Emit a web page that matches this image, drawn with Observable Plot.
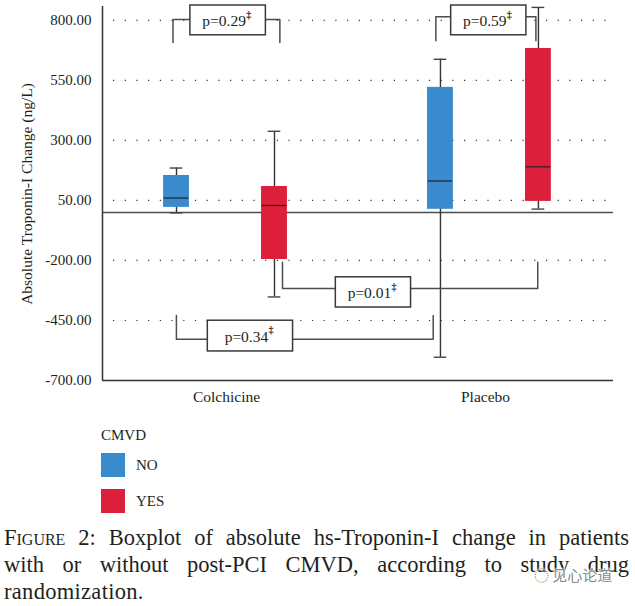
<!DOCTYPE html>
<html><head><meta charset="utf-8">
<script src="https://cdn.jsdelivr.net/npm/d3@7"></script>
<script src="https://cdn.jsdelivr.net/npm/@observablehq/plot@0.6"></script>
<style>
html,body{margin:0;padding:0;background:#fff;}
body{width:635px;height:606px;overflow:hidden;position:relative;font-family:"Liberation Serif",serif;color:#231f20;}
#chart svg{display:block;}
#legend{height:112px;padding:14px 0 0 101px;box-sizing:border-box;font-size:15px;}
#legend .title{height:18px;line-height:18px;margin-bottom:9px;}
#legend .row{display:flex;align-items:center;height:24px;margin-bottom:12px;}
#legend .sw{width:24px;height:24px;margin-right:11px;}
#caption{margin:0;padding:0 6px 0 4px;font-size:22.5px;line-height:27px;}
#caption div{text-align:justify;text-align-last:justify;white-space:nowrap;}
#caption div:last-child{text-align-last:left;letter-spacing:.3px;}
#caption .sc{font-variant:small-caps;}
#mark{position:absolute;left:534px;top:565px;font:15px/20px "Noto Sans CJK SC",sans-serif;color:#8a8a8a;text-shadow:0 0 2px #fff,0 0 2px #fff,0 0 2px #fff;white-space:nowrap;}
</style></head><body>
<div id="chart"></div>
<div id="legend"></div>
<div id="caption"><div><span class="sc">Figure 2:</span> Boxplot of absolute hs-Troponin-I change in patients</div><div>with or without post-PCI CMVD, according to study drug</div><div>randomization.</div></div>
<div id="mark">◌ 见心论道</div>
<script>
// ---- data ----
const groups      = ["Colchicine", "Placebo"];
const cmvd        = ["NO", "YES"];
const q1          = [[21, -196], [13, 46]];
const median      = [[60, 29], [131, 190]];
const q3          = [[154, 108], [521, 683]];
const whiskerLow  = [[-2, -352], [-603, 14]];
const whiskerHigh = [[185, 338], [638, 854]];
const yTicks      = [-700, -450, -200, 50, 300, 550, 800];
const yTitle      = "Absolute Troponin-I Change (ng/L)";

// p-value brackets
const pLabels  = ["p=0.29", "p=0.59", "p=0.01", "p=0.34"];
const bLeft    = [0.801, 1.797, 1.216, 0.814];
const bRight   = [1.206, 2.176, 2.183, 1.787];
const bEnd     = [708, 715, -207, -429];
const bLevel   = [804, 815, -317, -528];
const boxLeft  = [0.867, 1.855, 1.418, 0.933];
const boxRight = [1.153, 2.140, 1.703, 1.256];
const boxTop   = [862, 862, -270, -451];
const boxBot   = [738, 738, -396, -579];

// ---- styles & layout ----
const colors = {NO: "#3a8bcd", YES: "#dc1f3a"};
const dodge = 0.1856, boxHalf = 0.049, capHalf = 0.024;
const groupLabelAt = [1.004, 1.985];
const ink = "#231f20", line = "#4d4d4d";
const fs = 15;

const boxes = groups.flatMap((g, i) => cmvd.map((c, j) => ({
  group: g, cmvd: c,
  pos: i + 1 + (j ? dodge : -dodge),
  q1: q1[i][j], med: median[i][j], q3: q3[i][j],
  lo: whiskerLow[i][j], hi: whiskerHigh[i][j]
})));
const brackets = pLabels.map((label, i) => ({
  label, mid: (boxLeft[i] + boxRight[i]) / 2, y: (boxTop[i] + boxBot[i]) / 2,
  x1: boxLeft[i], x2: boxRight[i], y1: boxBot[i], y2: boxTop[i],
  path: [[bLeft[i], bEnd[i]], [bLeft[i], bLevel[i]], [bRight[i], bLevel[i]], [bRight[i], bEnd[i]]]
}));
const bracketPts = brackets.flatMap((b, i) => b.path.map(([x, y]) => ({x, y, i})));

const chart = Plot.plot({
  width: 635, height: 412,
  marginLeft: 102, marginRight: 22, marginTop: 5, marginBottom: 32,
  style: {fontFamily: '"Liberation Serif", serif', fontSize: fs + "px", color: ink, background: "transparent"},
  x: {type: "linear", domain: [0.534, 2.470]},
  y: {type: "linear", domain: [-700, 862]},
  marks: [
    Plot.ruleY(yTicks.filter(d => d !== -700), {stroke: "#333", strokeWidth: 1.2, strokeDasharray: "1.2 10.5", strokeDashoffset: -11}),
    Plot.ruleY([0], {stroke: line, strokeWidth: 1.5}),
    Plot.ruleY([-700], {stroke: "#333", strokeWidth: 1.5}),
    Plot.ruleX([0.534], {y1: -700, y2: 858, stroke: "#333", strokeWidth: 1.5}),
    Plot.axisY(yTicks, {tickFormat: d => d.toFixed(2), tickSize: 0, tickPadding: 11, label: null, fontSize: fs}),
    Plot.axisX(groupLabelAt, {tickFormat: d => groups[groupLabelAt.indexOf(d)], tickSize: 0, tickPadding: 10, label: null, fontSize: 15.5}),
    Plot.text([yTitle], {frameAnchor: "left", textAnchor: "middle", dx: -75, dy: 1, rotate: -90, fontSize: 15.5, fill: ink}),
    // whiskers
    Plot.ruleX(boxes, {x: "pos", y1: "lo", y2: "hi", stroke: "#333", strokeWidth: 1.4}),
    Plot.ruleY(boxes, {y: "lo", x1: d => d.pos - capHalf, x2: d => d.pos + capHalf, stroke: "#444", strokeWidth: 1.4}),
    Plot.ruleY(boxes, {y: "hi", x1: d => d.pos - capHalf, x2: d => d.pos + capHalf, stroke: "#444", strokeWidth: 1.4}),
    // boxes
    Plot.rect(boxes, {x1: d => d.pos - boxHalf, x2: d => d.pos + boxHalf, y1: "q1", y2: "q3", fill: d => colors[d.cmvd]}),
    Plot.ruleY(boxes, {y: "med", x1: d => d.pos - boxHalf * 0.95, x2: d => d.pos + boxHalf * 0.95, stroke: "#222", strokeWidth: 1.2}),
    // brackets
    Plot.line(bracketPts, {x: "x", y: "y", z: "i", stroke: line, strokeWidth: 1.5, curve: "linear"}),
    Plot.rect(brackets, {x1: "x1", x2: "x2", y1: "y1", y2: "y2", fill: "#fff", stroke: "#3a3a3a", strokeWidth: 1.5}),
    Plot.text(brackets, {x: "mid", y: "y", text: "label", dx: -4, dy: 0.5, fontSize: 15.5, fill: ink}),
    Plot.text(brackets, {x: "mid", y: "y", text: () => "‡", dx: 20.5, dy: -6, fontSize: 10, fontWeight: "bold", fill: ink})
  ]
});
document.getElementById("chart").append(chart);

const legend = document.getElementById("legend");
legend.innerHTML = '<div class="title">CMVD</div>' +
  cmvd.map(c => `<div class="row"><div class="sw" style="background:${colors[c]}"></div><span>${c}</span></div>`).join("");
</script>
</body></html>
